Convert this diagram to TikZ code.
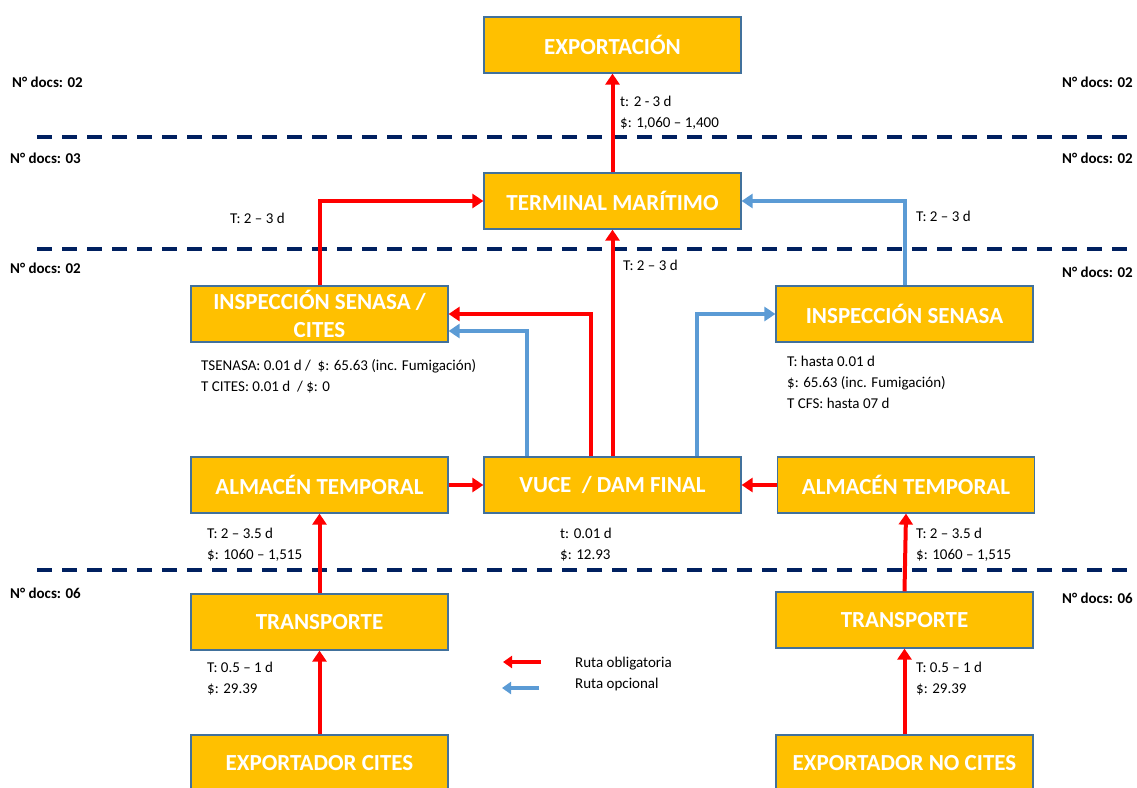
\documentclass[tikz,border=0pt]{standalone}
\usepackage{fontspec}
\setmainfont{Carlito}
\usepackage{xcolor}
\usepackage{tikz}
\usetikzlibrary{calc, arrows.meta}

\definecolor{oro}{HTML}{FFC000}
\definecolor{borde}{HTML}{41719C}
\definecolor{rojo}{HTML}{FF0000}
\definecolor{azul}{HTML}{5B9BD5}
\definecolor{marino}{HTML}{002060}

\begin{document}
\begin{tikzpicture}[x=1pt, y=-1pt,
		caja/.style = {draw = borde, line width = 1.2pt, fill = oro, text = white,
			minimum width = 257pt, minimum height = 56pt, inner sep = 0pt,
			align = center, font = \bfseries\fontsize{23}{28}\selectfont},
		dato/.style = {anchor = west, inner sep = 0pt, align = left,
			font = \fontsize{15}{21}\selectfont},
		docs/.style = {inner sep = 0pt, font = \bfseries\fontsize{15}{17}\selectfont},
		ruta/.style = {draw = rojo, line width = 4pt,
			-{Triangle[length = 11pt, width = 14pt]}},
		opcion/.style = {ruta, draw = azul},
		nivel/.style = {draw = marino, line width = 4pt, dash pattern = on 15pt off 10pt}]
	
	\useasboundingbox (0,0) rectangle (1137,787);
	
	% niveles
	\draw [nivel] (37,137) -- (1130,137);
	\draw [nivel] (37,249) -- (1130,249);
	\draw [nivel] (37,570) -- (1130,570);
	
	\node [docs, anchor = west] (d1) at (12,82) {N° docs: 02};
	\node [docs, anchor = east] (d2) at (1133,82) {N° docs: 02};
	\node [docs, anchor = west] (d3) at (10,158) {N° docs: 03};
	\node [docs, anchor = east] (d4) at (1133,158) {N° docs: 02};
	\node [docs, anchor = west] (d5) at (10,268) {N° docs: 02};
	\node [docs, anchor = east] (d6) at (1133,272) {N° docs: 02};
	\node [docs, anchor = west] (d7) at (10,593) {N° docs: 06};
	\node [docs, anchor = east] (d8) at (1133,598) {N° docs: 06};
	
	% cajas
	\node [caja] (exportacion) at (612.5,45) {EXPORTACIÓN};
	\node [caja] (terminal) at (612.5,201) {TERMINAL MARÍTIMO};
	\node [caja] (inspcites) at (319.5,314) {INSPECCIÓN SENASA /\\CITES};
	\node [caja] (inspsenasa) at (904.5,314) {INSPECCIÓN SENASA};
	\node [caja] (almizq) at (319.5,485) {ALMACÉN TEMPORAL};
	\node [caja] (vuce) at (612.5,485) {VUCE \ / DAM FINAL};
	\node [caja] (almder) at (906,485) {ALMACÉN TEMPORAL};
	\node [caja] (transizq) at (319.5,622) {TRANSPORTE};
	\node [caja] (transder) at (904.5,620) {TRANSPORTE};
	\node [caja] (expcites) at (319.5,763) {EXPORTADOR CITES};
	\node [caja] (expnocites) at (904.5,763) {EXPORTADOR NO CITES};
	
	% rutas
	\draw [ruta] (terminal) -- (exportacion);
	\draw [ruta] (vuce) -- (terminal);
	\draw [ruta] ([xshift = -22pt]vuce.north) |- (inspcites.east);
	\draw [opcion] ([xshift = -86pt]vuce.north) |- ([yshift = -17pt]inspcites.east);
	\draw [opcion] ([xshift = 84pt]vuce.north) |- (inspsenasa.west);
	\draw [opcion] (inspsenasa.north) |- (terminal.east);
	\draw [ruta] (inspcites.north) |- (terminal.west);
	\draw [ruta] (almizq) -- (vuce);
	\draw [ruta] (almder) -- (vuce);
	\draw [ruta] (transizq) -- (almizq);
	\draw [ruta] (transder.north) -- (almder.south);
	\draw [ruta] (expcites) -- (transizq);
	\draw [ruta] (expnocites) -- (transder);
	
	% tiempos y costos
	\node [dato] (t1) at (620,112.5) {t: 2 - 3 d\\\$: 1,060 – 1,400};
	\node [dato] (t2) at (230,218) {T: 2 – 3 d};
	\node [dato] (t3) at (916,216) {T: 2 – 3 d};
	\node [dato] (t4) at (623,265) {T: 2 – 3 d};
	\node [dato] (t5) at (201,376.5) {TSENASA: 0.01 d / \ \$: 65.63 (inc. Fumigación)\\T CITES: 0.01 d \ / \$: 0};
	\node [dato] (t6) at (787,382.5) {T: hasta 0.01 d\\\$: 65.63 (inc. Fumigación)\\T CFS: hasta 07 d};
	\node [dato] (t7) at (207,544.5) {T: 2 – 3.5 d\\\$: 1060 – 1,515};
	\node [dato] (t8) at (560,544.5) {t: 0.01 d\\\$: 12.93};
	\node [dato] (t9) at (916,544.5) {T: 2 – 3.5 d\\\$: 1060 – 1,515};
	\node [dato] (t10) at (207,679) {T: 0.5 – 1 d\\\$: 29.39};
	\node [dato] (t11) at (916,679) {T: 0.5 – 1 d\\\$: 29.39};
	
	% leyenda
	\coordinate (ley1) at (541,662);
	\coordinate (ley2) at (539,688);
	\draw [ruta, line width = 3.5pt, -{Triangle[length = 9pt, width = 12pt]}] (ley1) -- ++(-38,0);
	\draw [opcion, line width = 3.5pt, -{Triangle[length = 9pt, width = 12pt]}] (ley2) -- ++(-37,0);
	\node [dato] (ley) at (575,673.5) {Ruta obligatoria\\Ruta opcional};
\end{tikzpicture}
\end{document}
